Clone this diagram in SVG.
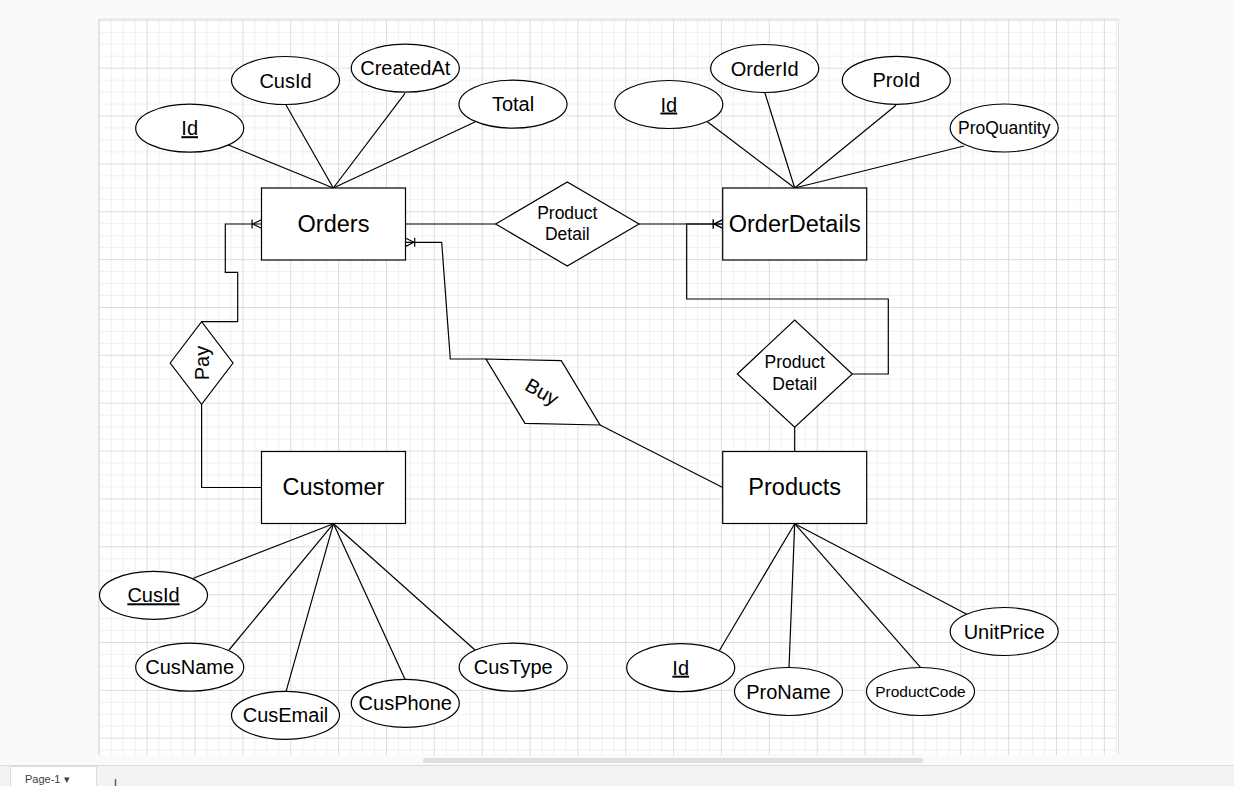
<svg xmlns="http://www.w3.org/2000/svg" width="1234" height="786" viewBox="0 0 1234 786">
<style>
  .n rect, .n ellipse, .n polygon { fill: #ffffff; stroke: #000000; stroke-width: 1.2; }
  text { font-family: "Liberation Sans", Arial, sans-serif; fill: #000000; text-anchor: middle; }
  .attr { font-size: 20px; }
  .ent { font-size: 23.5px; }
  .rel { font-size: 17.5px; }
  .c path { fill: none; stroke: #000000; stroke-width: 1.2; }
</style>
<defs>
  <pattern id="grid" patternUnits="userSpaceOnUse" x="98.8" y="19.8" width="47.86" height="47.86">
    <path d="M12.465 0V47.86M24.43 0V47.86M36.395 0V47.86M0 12.465H47.86M0 24.43H47.86M0 36.395H47.86" stroke="#f0f0f0" stroke-width="1" fill="none"/>
    <path d="M0.5 0V47.86M0 0.5H47.86" stroke="#dcdcdc" stroke-width="1" fill="none"/>
  </pattern>
  <marker id="oneMany" viewBox="-12 -6 14 12" markerWidth="14" markerHeight="12" refX="0" refY="0" orient="auto" markerUnits="userSpaceOnUse">
    <path d="M-9.4 -4.5V4.5M-8.6 0L0 -4.3M-8.6 0L0 4.3" fill="none" stroke="#000000" stroke-width="1.2"/>
  </marker>
</defs>

<!-- editor background -->
<rect x="0" y="0" width="1234" height="786" fill="#fafafa"/>
<rect x="99" y="19.5" width="1019" height="735.5" fill="#ffffff"/>
<rect x="99" y="19.5" width="1018" height="735.5" fill="url(#grid)"/>
<path d="M98.5 755V19H1118.5V755" fill="none" stroke="#e2e2e2" stroke-width="1"/>

<!-- connectors -->
<g id="connectors" class="c">
  <!-- Orders attributes -->
  <path d="M228.3 145L333.3 188"/>
  <path d="M286 105L333.3 188"/>
  <path d="M405 93.3L333.3 188"/>
  <path d="M475 122L333.3 188"/>
  <!-- OrderDetails attributes -->
  <path d="M707.3 121.7L794.7 188"/>
  <path d="M764.7 92.3L794.7 188"/>
  <path d="M896 105.3L794.7 188"/>
  <path d="M964 146L794.7 188"/>
  <!-- Customer attributes -->
  <path d="M193.3 578.3L333.5 523.7"/>
  <path d="M229 650L333.5 523.7"/>
  <path d="M286 691.7L333.5 523.7"/>
  <path d="M405 679.3L333.5 523.7"/>
  <path d="M475 650L333.5 523.7"/>
  <!-- Products attributes -->
  <path d="M719.3 650.7L794.7 523.7"/>
  <path d="M789 667.7L794.7 523.7"/>
  <path d="M920.7 667.7L794.7 523.7"/>
  <path d="M966.7 614.3L794.7 523.7"/>
  <!-- relationships -->
  <path d="M405.3 224H495.7"/>
  <path d="M639 224H722.7" marker-end="url(#oneMany)"/>
  <path d="M852.3 374H888.3V299H686.7V224H722.7" marker-end="url(#oneMany)"/>
  <path d="M794.7 427.3V451.5"/>
  <path d="M201.6 321.7H237.7V272.3H225.3V224H261.5" marker-end="url(#oneMany)"/>
  <path d="M201.6 404.3V487.5H261.5"/>
  <path d="M486 359H450.3L441.7 242.3H405.3" marker-end="url(#oneMany)"/>
  <path d="M600 425L722.7 487.5"/>
</g>

<!-- entities -->
<g id="orders" class="n">
  <rect x="261.5" y="188" width="144" height="72"/>
  <text class="ent" x="333.5" y="231.7">Orders</text>
</g>
<g id="orderdetails" class="n">
  <rect x="722.7" y="188" width="144" height="72"/>
  <text class="ent" x="794.7" y="231.7">OrderDetails</text>
</g>
<g id="customer" class="n">
  <rect x="261.5" y="451.5" width="144" height="72"/>
  <text class="ent" x="333.5" y="495.3">Customer</text>
</g>
<g id="products" class="n">
  <rect x="722.7" y="451.5" width="144" height="72"/>
  <text class="ent" x="794.7" y="495.3">Products</text>
</g>

<!-- relationships -->
<g id="rel-productdetail-1" class="n">
  <polygon points="495.7,224 567.3,182 639,224 567.3,266"/>
  <text class="rel" x="567.3" y="218.6">Product</text>
  <text class="rel" x="567.3" y="240.3">Detail</text>
</g>
<g id="rel-productdetail-2" class="n">
  <polygon points="737.3,374 794.7,320 852.3,374 794.7,427.3"/>
  <text class="rel" x="794.7" y="368.3">Product</text>
  <text class="rel" x="794.7" y="390">Detail</text>
</g>
<g id="rel-pay" class="n">
  <polygon points="170.2,363 201.6,321.7 233,363 201.6,404.3"/>
  <text class="attr" transform="rotate(-90 201.7 363)" x="201.7" y="370">Pay</text>
</g>
<g id="rel-buy" class="n">
  <polygon points="486,359 561.3,360.7 600,425 525,423.3"/>
  <text class="attr" transform="rotate(30 542 391.7)" x="542" y="398.7">Buy</text>
</g>

<!-- Orders attributes -->
<g id="orders-id" class="n">
  <ellipse cx="189.7" cy="128.2" rx="54" ry="24"/>
  <text class="attr" x="189.7" y="135.2" text-decoration="underline">Id</text>
</g>
<g id="orders-cusid" class="n">
  <ellipse cx="285.5" cy="80.5" rx="54" ry="24"/>
  <text class="attr" x="285.5" y="87.5">CusId</text>
</g>
<g id="orders-createdat" class="n">
  <ellipse cx="405.3" cy="68.2" rx="54" ry="24"/>
  <text class="attr" x="405.3" y="75.2">CreatedAt</text>
</g>
<g id="orders-total" class="n">
  <ellipse cx="513" cy="104.2" rx="54" ry="24"/>
  <text class="attr" x="513" y="111.2">Total</text>
</g>

<!-- OrderDetails attributes -->
<g id="od-id" class="n">
  <ellipse cx="668.8" cy="104.5" rx="54" ry="24"/>
  <text class="attr" x="668.8" y="111.5" text-decoration="underline">Id</text>
</g>
<g id="od-orderid" class="n">
  <ellipse cx="764.7" cy="68.5" rx="54" ry="24"/>
  <text class="attr" x="764.7" y="75.5">OrderId</text>
</g>
<g id="od-proid" class="n">
  <ellipse cx="896.3" cy="80.3" rx="54" ry="24"/>
  <text class="attr" x="896.3" y="87.3">ProId</text>
</g>
<g id="od-proquantity" class="n">
  <ellipse cx="1004.2" cy="128" rx="54" ry="24"/>
  <text x="1004.2" y="134" style="font-size:17.5px">ProQuantity</text>
</g>

<!-- Customer attributes -->
<g id="cus-cusid" class="n">
  <ellipse cx="153.5" cy="595.3" rx="54" ry="24"/>
  <text class="attr" x="153.5" y="602.3" text-decoration="underline">CusId</text>
</g>
<g id="cus-cusname" class="n">
  <ellipse cx="189.7" cy="667.2" rx="54" ry="24"/>
  <text class="attr" x="189.7" y="674.2">CusName</text>
</g>
<g id="cus-cusemail" class="n">
  <ellipse cx="285.5" cy="715.3" rx="54" ry="24"/>
  <text class="attr" x="285.5" y="722.3">CusEmail</text>
</g>
<g id="cus-cusphone" class="n">
  <ellipse cx="405.3" cy="703.3" rx="54" ry="24"/>
  <text class="attr" x="405.3" y="710.3">CusPhone</text>
</g>
<g id="cus-custype" class="n">
  <ellipse cx="513.2" cy="667.2" rx="54" ry="24"/>
  <text class="attr" x="513.2" y="674.2">CusType</text>
</g>

<!-- Products attributes -->
<g id="pro-id" class="n">
  <ellipse cx="680.7" cy="667.7" rx="54" ry="24"/>
  <text class="attr" x="680.7" y="674.7" text-decoration="underline">Id</text>
</g>
<g id="pro-proname" class="n">
  <ellipse cx="788.5" cy="691.5" rx="54" ry="24"/>
  <text class="attr" x="788.5" y="698.5">ProName</text>
</g>
<g id="pro-productcode" class="n">
  <ellipse cx="920.5" cy="691.5" rx="54" ry="24"/>
  <text x="920.5" y="697" style="font-size:15.5px">ProductCode</text>
</g>
<g id="pro-unitprice" class="n">
  <ellipse cx="1004.2" cy="631.5" rx="54" ry="24"/>
  <text class="attr" x="1004.2" y="638.5">UnitPrice</text>
</g>

<!-- editor chrome -->
<rect x="0" y="755" width="1234" height="10.5" fill="#fafafa"/>
<rect x="423" y="758" width="500" height="5" rx="2.5" fill="#dedede"/>
<rect x="0" y="766" width="1234" height="20" fill="#f1f3f4"/>
<line x1="0" y1="765.5" x2="1234" y2="765.5" stroke="#dadce0" stroke-width="1"/>
<rect x="10.5" y="766.5" width="86" height="22" fill="#ffffff" stroke="#dadce0" stroke-width="1"/>
<text x="25" y="782.5" style="font-size:11px;text-anchor:start;fill:#3c4043">Page-1 ▾</text>
<line x1="115.5" y1="779" x2="115.5" y2="786" stroke="#5f6368" stroke-width="1.5"/>
</svg>
